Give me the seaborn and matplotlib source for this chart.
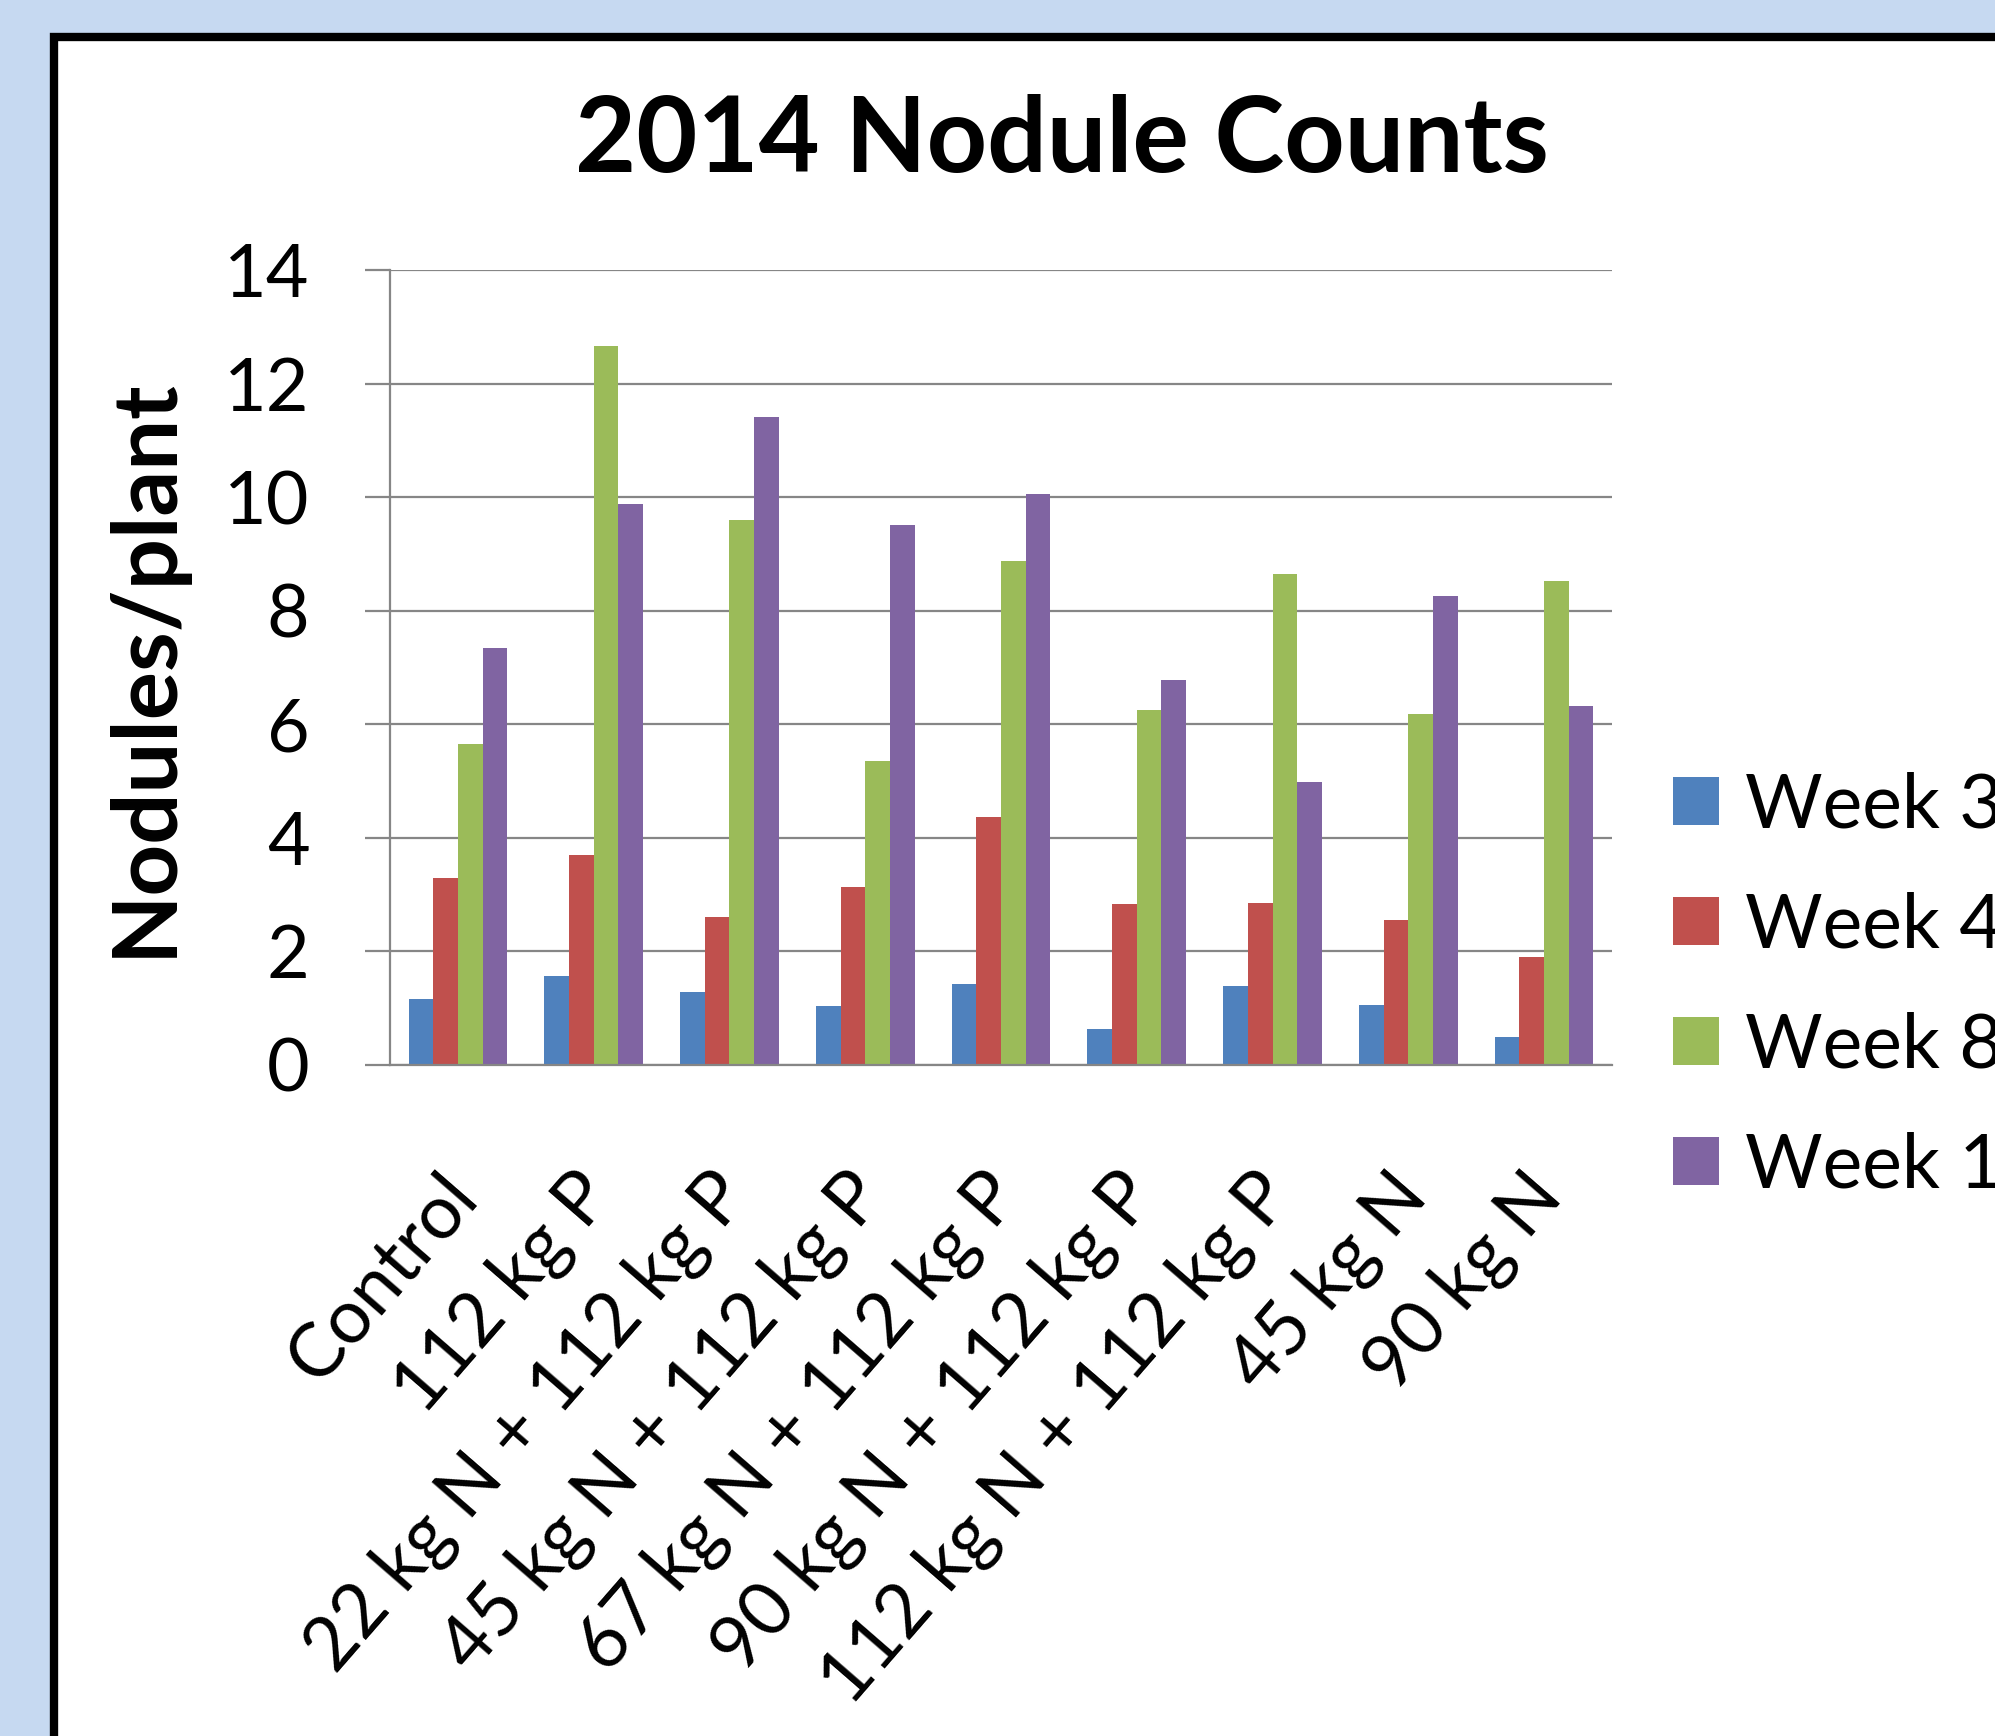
import pandas as pd
import matplotlib.pyplot as plt
import matplotlib.transforms as mtransforms
import seaborn as sns
from matplotlib.patches import Rectangle

# 2014 nodule counts per plant
treatments = ['Control', '112 kg P', '22 kg N + 112 kg P', '45 kg N + 112 kg P',
              '67 kg N + 112 kg P', '90 kg N + 112 kg P', '112 kg N + 112 kg P',
              '45 kg N', '90 kg N']
weeks = ['Week 3', 'Week 4', 'Week 8', 'Week 12']
week3 = [1.16, 1.56, 1.28, 1.04, 1.42, 0.64, 1.39, 1.05, 0.50]
week4 = [3.30, 3.70, 2.60, 3.14, 4.37, 2.83, 2.85, 2.55, 1.90]
week8 = [5.66, 12.66, 9.60, 5.36, 8.88, 6.26, 8.64, 6.18, 8.52]
week12 = [7.35, 9.88, 11.41, 9.51, 10.06, 6.78, 4.98, 8.26, 6.32]
yticks = [0, 2, 4, 6, 8, 10, 12, 14]

colors = ['#4f81bd', '#c0504d', '#9bbb59', '#8064a2']
grid_col = '#868686'

# long format for seaborn
rows = []
for w, vals in zip(weeks, [week3, week4, week8, week12]):
    for t, v in zip(treatments, vals):
        rows.append({'treatment': t, 'week': w, 'count': v})
df = pd.DataFrame(rows)

sns.set_style('white')
plt.rcParams['font.family'] = ['Lato', 'DejaVu Sans']
plt.rcParams['text.color'] = 'black'
plt.rcParams['xtick.color'] = 'black'
plt.rcParams['ytick.color'] = 'black'
plt.rcParams['axes.labelcolor'] = 'black'

W, H = 1995, 1736
fig = plt.figure(figsize=(W / 100, H / 100), dpi=100)
fig.patch.set_facecolor('#c6d9f1')

# white panel with thick black frame (runs off the right and bottom edge)
frame = Rectangle((54 / W, -0.1), 1.2, 1 - 37 / H + 0.1,
                  transform=fig.transFigure, facecolor='white',
                  edgecolor='black', linewidth=6, zorder=-5)
fig.patches.append(frame)

ax = fig.add_axes([390 / W, 1 - 1065 / H, (1612 - 390) / W, (1065 - 270) / H])
ax.set_zorder(2)
ax.set_facecolor('white')

sns.barplot(data=df, x='treatment', y='count', hue='week', palette=colors,
            width=0.727, linewidth=0, saturation=1, ax=ax)

ax.set_ylim(0, 14)
ax.set_yticks(yticks)
ax.yaxis.grid(True, color=grid_col, linewidth=1.6)
ax.set_axisbelow(True)
for s in ['top', 'right']:
    ax.spines[s].set_visible(False)
for s in ['left', 'bottom']:
    ax.spines[s].set_color(grid_col)
    ax.spines[s].set_linewidth(1.6)

ax.tick_params(axis='y', direction='out', length=18, width=1.6, color=grid_col,
               labelcolor='black', labelsize=53, pad=40, left=True)
ax.tick_params(axis='x', length=0, labelsize=54, pad=86, labelcolor='black')
shift = mtransforms.ScaledTranslation(6 / 100, 0, fig.dpi_scale_trans)
for lab in ax.get_xticklabels():
    lab.set_rotation(49)
    lab.set_ha('right')
    lab.set_va('center')
    lab.set_rotation_mode('anchor')
    lab.set_transform(lab.get_transform() + shift)

ax.set_xlabel('')
ax.set_ylabel('Nodules/plant', fontsize=65, fontweight='bold')
ax.yaxis.set_label_coords((186 - 390) / (1612 - 390), 0.5)

fig.text(1062 / W, 1 - 172 / H, '2014 Nodule Counts', ha='center',
         va='baseline', fontsize=76, fontweight='bold')

handles, labels = ax.get_legend_handles_labels()
ax.get_legend().remove()
fig.legend(handles, labels, loc='center left',
           bbox_to_anchor=(1673 / W, 1 - 986 / H), frameon=False,
           fontsize=54, handlelength=0.61, handleheight=0.61,
           handletextpad=0.35, labelspacing=0.68, borderpad=0, borderaxespad=0)

fig.savefig('out.png', dpi=100, facecolor=fig.get_facecolor())
